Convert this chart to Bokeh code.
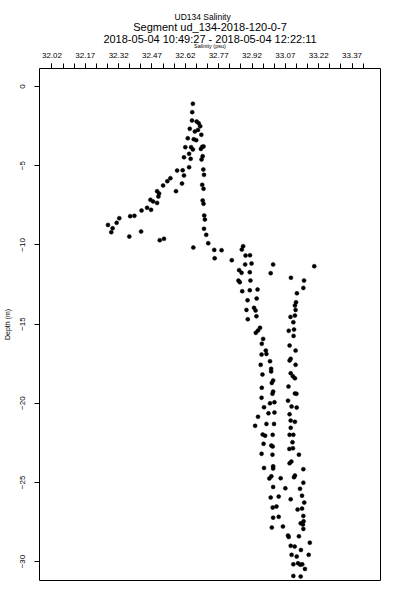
from bokeh.plotting import figure
from bokeh.models import Range1d, FixedTicker, Title, PrintfTickFormatter
from bokeh.embed import file_html
from bokeh.resources import INLINE

FONT = "Liberation Sans"

title_lines = ["UD134 Salinity",
               "Segment ud_134-2018-120-0-7",
               "2018-05-04 10:49:27 - 2018-05-04 12:22:11"]
x_label = "Salinity (psu)"
y_label = "Depth (m)"

salinity_major_ticks = [32.02, 32.17, 32.32, 32.47, 32.62, 32.77, 32.92, 33.07, 33.22, 33.37]
salinity_minor_ticks = [32.02, 32.07, 32.12, 32.17, 32.22, 32.27, 32.32, 32.37, 32.42, 32.47,
                        32.52, 32.57, 32.62, 32.67, 32.72, 32.77, 32.82, 32.87, 32.92, 32.97,
                        33.02, 33.07, 33.12, 33.17, 33.22, 33.27, 33.32, 33.37, 33.42]
depth_ticks = [0, -5, -10, -15, -20, -25, -30]

salinity = [
    32.654, 32.651, 32.650, 32.671, 32.680, 32.687, 32.640, 32.663, 32.677, 32.692,
    32.631, 32.658, 32.669, 32.620, 32.646, 32.654, 32.696, 32.702, 32.690, 32.637,
    32.614, 32.644, 32.698, 32.693, 32.637, 32.608, 32.583, 32.701, 32.704, 32.614,
    32.553, 32.539, 32.605, 32.696, 32.702, 32.520, 32.578, 32.493, 32.502, 32.499,
    32.463, 32.475, 32.493, 32.698, 32.702, 32.448, 32.466, 32.423, 32.391, 32.372,
    32.705, 32.708, 32.323, 32.311, 32.272, 32.293, 32.287, 32.421, 32.368, 32.704,
    32.714, 32.524, 32.505, 32.723, 32.656, 32.750, 32.783, 32.752, 32.829, 32.880,
    32.874, 32.891, 32.911, 32.889, 32.918, 33.015, 33.200, 32.862, 32.873, 32.910,
    33.004, 33.095, 33.154, 32.859, 32.865, 32.913, 33.151, 32.876, 32.910, 32.945,
    33.122, 32.900, 32.941, 33.118, 33.113, 32.929, 32.936, 32.895, 33.093, 33.113,
    32.940, 32.901, 33.106, 32.956, 32.947, 32.937, 33.085, 33.109, 33.107, 32.970,
    32.964, 33.089, 33.116, 32.982, 32.985, 32.963, 33.094, 33.089, 33.001, 32.959,
    33.116, 33.006, 33.006, 33.094, 33.104, 33.113, 32.967, 33.015, 33.009, 32.964,
    33.084, 33.015, 33.012, 33.113, 33.120, 32.963, 33.001, 33.021, 33.082, 32.974,
    33.098, 33.121, 32.994, 33.021, 33.089, 32.947, 33.094, 33.113, 32.934, 32.985,
    33.019, 33.094, 32.968, 32.979, 33.013, 33.089, 33.106, 32.972, 33.007, 33.013,
    33.102, 33.088, 33.104, 32.963, 33.012, 33.131, 33.097, 33.089, 32.974, 33.015,
    33.015, 33.151, 33.007, 32.998, 33.049, 33.113, 33.109, 33.151, 33.015, 33.070,
    33.136, 33.145, 33.004, 33.040, 33.094, 33.155, 33.013, 33.030, 33.125, 33.145,
    33.151, 33.015, 33.040, 33.152, 33.139, 33.149, 33.009, 33.059, 33.151, 33.082,
    33.085, 33.131, 33.180, 33.094, 33.112, 33.140, 33.098, 33.121, 33.175, 33.127,
    33.137, 33.146, 33.106, 33.158, 33.106, 33.139, 33.116,
]
depth = [
    -1.09, -1.62, -2.15, -2.21, -2.32, -2.51, -2.67, -2.84, -2.74, -3.05,
    -3.27, -3.33, -3.39, -3.83, -3.83, -3.98, -3.81, -3.79, -3.94, -4.25,
    -4.47, -4.57, -4.40, -4.61, -5.10, -5.29, -5.31, -5.24, -5.58, -5.62,
    -5.79, -5.98, -6.13, -6.21, -6.46, -6.25, -6.61, -6.61, -6.76, -6.95,
    -7.16, -7.26, -7.35, -7.20, -7.41, -7.66, -7.79, -7.83, -8.17, -8.19,
    -8.15, -8.40, -8.32, -8.61, -8.74, -8.95, -9.20, -9.16, -9.48, -8.99,
    -9.37, -9.62, -9.71, -9.90, -10.17, -10.32, -10.34, -10.85, -10.97, -10.09,
    -10.30, -10.68, -10.66, -11.24, -11.18, -11.24, -11.35, -11.60, -11.77, -11.73,
    -11.79, -12.08, -12.26, -12.26, -12.36, -12.26, -12.72, -12.93, -12.87, -12.82,
    -13.06, -13.50, -13.39, -13.63, -13.83, -13.98, -14.15, -14.11, -14.55, -14.47,
    -14.51, -14.70, -14.89, -15.24, -15.41, -15.56, -15.43, -15.35, -15.75, -15.94,
    -16.25, -16.36, -16.68, -16.68, -16.89, -16.93, -17.20, -17.31, -17.35, -17.58,
    -17.58, -17.83, -18.00, -18.11, -18.30, -18.43, -18.19, -18.57, -18.72, -19.03,
    -18.95, -19.27, -19.41, -19.39, -19.41, -19.66, -20.01, -19.94, -19.84, -20.26,
    -20.21, -20.28, -20.64, -20.59, -20.70, -20.86, -21.10, -21.18, -21.43, -21.31,
    -21.31, -21.56, -21.98, -22.05, -22.00, -22.00, -22.00, -22.57, -22.68, -22.74,
    -22.47, -22.89, -22.85, -23.20, -23.25, -23.25, -23.69, -23.80, -24.09, -23.99,
    -24.13, -24.17, -24.62, -24.76, -24.74, -24.57, -24.68, -25.02, -25.29, -25.38,
    -25.41, -25.84, -25.96, -25.90, -26.07, -26.28, -26.59, -26.53, -26.72, -26.66,
    -27.12, -27.23, -27.18, -27.46, -27.59, -27.67, -27.86, -27.79, -27.94, -28.36,
    -28.45, -28.41, -28.81, -29.01, -29.06, -29.27, -29.58, -29.69, -29.58, -30.11,
    -30.20, -30.18, -30.18, -30.47, -30.91, -30.95, -14.11,
]

p = figure(width=392, height=592,
           x_range=Range1d(31.964, 33.498), y_range=Range1d(-31.2, 1.137),
           x_axis_location="above", output_backend="svg", toolbar_location=None,
           min_border_left=38, min_border_right=12, min_border_top=68, min_border_bottom=12,
           title=None)
p.background_fill_color = "white"
p.border_fill_color = "white"
p.xgrid.visible = False
p.ygrid.visible = False
p.outline_line_color = "black"
p.outline_line_alpha = 1.0
p.outline_line_width = 1

xa = p.xaxis[0]
xa.ticker = FixedTicker(ticks=salinity_major_ticks, minor_ticks=salinity_minor_ticks)
xa.formatter = PrintfTickFormatter(format="%.2f")
xa.axis_line_color = None
xa.major_tick_out = 5
xa.major_tick_in = 0
xa.minor_tick_out = 5
xa.minor_tick_in = 0
xa.major_tick_line_color = "black"
xa.minor_tick_line_color = "black"
xa.major_label_text_font = FONT
xa.major_label_text_font_size = "8px"
xa.major_label_text_color = "black"
xa.major_label_standoff = 6
xa.axis_label = x_label
xa.axis_label_text_font = FONT
xa.axis_label_text_font_size = "5.5px"
xa.axis_label_text_font_style = "normal"
xa.axis_label_text_color = "black"
xa.axis_label_standoff = 1

ya = p.yaxis[0]
ya.ticker = FixedTicker(ticks=depth_ticks, minor_ticks=[])
ya.axis_line_color = None
ya.major_tick_out = 5
ya.major_tick_in = 0
ya.major_tick_line_color = "black"
ya.major_label_orientation = "vertical"
ya.major_label_text_font = FONT
ya.major_label_text_font_size = "8px"
ya.major_label_text_color = "black"
ya.major_label_standoff = 9
ya.axis_label = y_label
ya.axis_label_text_font = FONT
ya.axis_label_text_font_size = "7px"
ya.axis_label_text_font_style = "normal"
ya.axis_label_text_color = "black"
ya.axis_label_standoff = 7

p.scatter(salinity, depth, marker="circle", size=4.0,
          fill_color="black", line_color="black", line_width=0.5)

# titles stacked outward from the x axis: third line first
t3 = Title(text=title_lines[2], align="center", vertical_align="middle",
           text_font=FONT, text_font_size="11px", text_font_style="normal",
           text_color="black", standoff=-12)
t2 = Title(text=title_lines[1], align="center", vertical_align="middle",
           text_font=FONT, text_font_size="11px", text_font_style="normal",
           text_color="black", standoff=6.5)
t1 = Title(text=title_lines[0], align="left", offset=135, vertical_align="middle",
           text_font=FONT, text_font_size="8.5px", text_font_style="normal",
           text_color="black", standoff=-12)
p.add_layout(t3, "above")
p.add_layout(t2, "above")
p.add_layout(t1, "above")

open("out.html", "w").write(file_html(p, INLINE))
